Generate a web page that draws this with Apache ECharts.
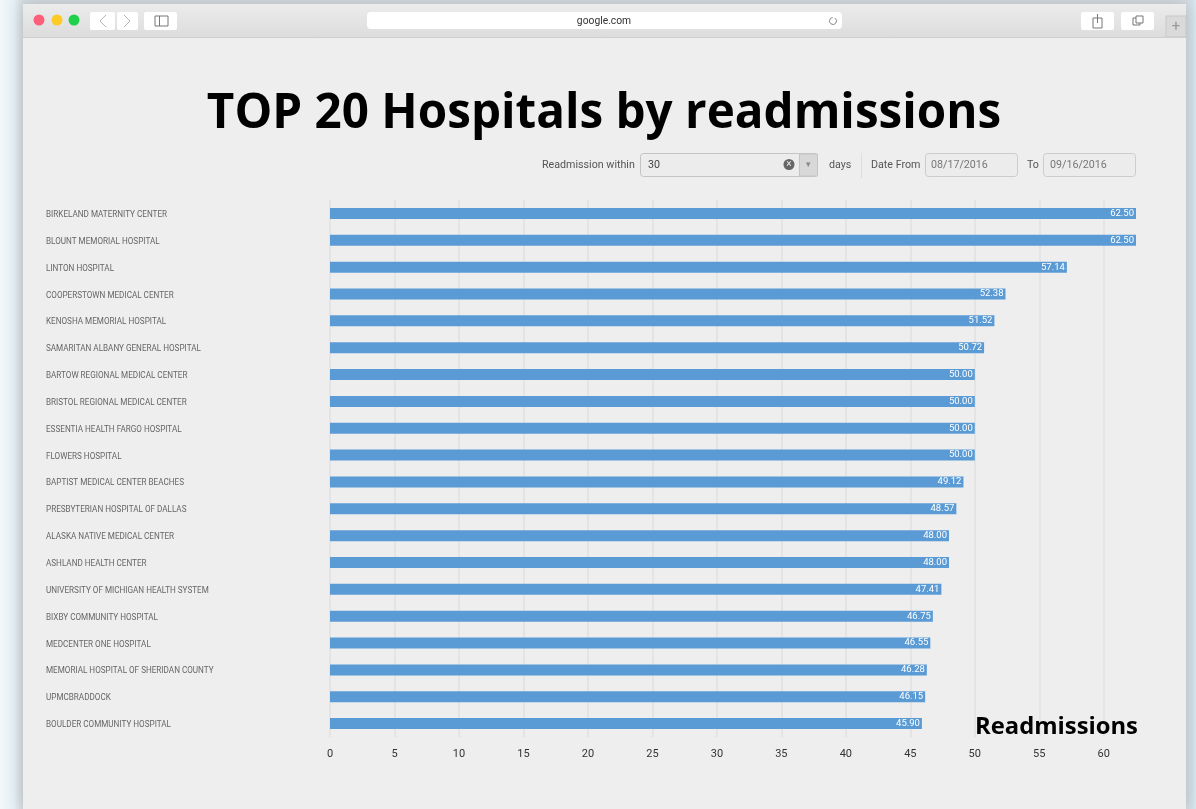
<!DOCTYPE html>
<html><head><meta charset="utf-8">
<script src="https://cdn.jsdelivr.net/npm/echarts@6/dist/echarts.min.js"></script>
<style>
html,body{margin:0;padding:0;width:1196px;height:809px;overflow:hidden;
background:linear-gradient(90deg,#f2f8fb 0,#e6f0f5 14px,#d6dde1 23px,#d6dde1 1186px,#d2e3ea 1192px,#dbe9ef 1196px);}
#c{width:1196px;height:809px}
</style></head><body><div id="c"></div>
<script>
const hospitals = ["BIRKELAND MATERNITY CENTER","BLOUNT MEMORIAL HOSPITAL","LINTON HOSPITAL","COOPERSTOWN MEDICAL CENTER","KENOSHA MEMORIAL HOSPITAL","SAMARITAN ALBANY GENERAL HOSPITAL","BARTOW REGIONAL MEDICAL CENTER","BRISTOL REGIONAL MEDICAL CENTER","ESSENTIA HEALTH FARGO HOSPITAL","FLOWERS HOSPITAL","BAPTIST MEDICAL CENTER BEACHES","PRESBYTERIAN HOSPITAL OF DALLAS","ALASKA NATIVE MEDICAL CENTER","ASHLAND HEALTH CENTER","UNIVERSITY OF MICHIGAN HEALTH SYSTEM","BIXBY COMMUNITY HOSPITAL","MEDCENTER ONE HOSPITAL","MEMORIAL HOSPITAL OF SHERIDAN COUNTY","UPMCBRADDOCK","BOULDER COMMUNITY HOSPITAL"];
const readmissions = [62.50,62.50,57.14,52.38,51.52,50.72,50.00,50.00,50.00,50.00,49.12,48.57,48.00,48.00,47.41,46.75,46.55,46.28,46.15,45.90];
const chartTitle = "TOP 20 Hospitals by readmissions";
const axisTitle = "Readmissions";

const rect=(x,y,w,h,fill,extra={},r=0)=>({type:'rect',silent:true,shape:{x,y,width:w,height:h,r},style:Object.assign({fill},extra),z:-7});
const text=(x,y,t,size,fill,align='left')=>({type:'text',silent:true,x,y,style:{text:t,fontSize:size,fill,fontFamily:'Roboto',align,verticalAlign:'middle'},z:-5});
const line=(x1,y1,x2,y2,stroke,w=1)=>({type:'line',silent:true,shape:{x1,y1,x2,y2},style:{stroke,lineWidth:w},z:-6});
const circle=(cx,cy,r,fill)=>({type:'circle',silent:true,shape:{cx,cy,r},style:{fill},z:-5});
const windowBody=rect(23,4,1163,805,'#eeeeee',{shadowBlur:16,shadowColor:'rgba(90,100,110,.3)'});
windowBody.z=-10;

const chrome=[
  windowBody,
  {type:'rect',silent:true,shape:{x:23,y:4,width:1163,height:33},z:-9,style:{fill:new echarts.graphic.LinearGradient(0,0,0,1,[{offset:0,color:'#ececec'},{offset:1,color:'#dcdcdc'}])}},
  line(23,37.5,1186,37.5,'#cfcfcf'),
  circle(39,20,5.5,'#fc5f7a'),circle(57,20,5.5,'#fdcb25'),circle(74,20,5.5,'#1fd04a'),
  rect(90,12,25,18,'#ffffff',{},2),rect(117,12,21,18,'#ffffff',{},2),rect(144,12,33,18,'#ffffff',{},2),
  {type:'polyline',silent:true,shape:{points:[[106,15],[100,21],[106,27]]},style:{stroke:'#b5b5b5',fill:'none',lineWidth:1},z:-5},
  {type:'polyline',silent:true,shape:{points:[[124,15],[130,21],[124,27]]},style:{stroke:'#b5b5b5',fill:'none',lineWidth:1},z:-5},
  {type:'rect',silent:true,shape:{x:155,y:16,width:13,height:10},style:{fill:'none',stroke:'#777',lineWidth:1},z:-5},
  line(159.5,16,159.5,26,'#777'),
  rect(367,12,475,17,'#ffffff',{},4),
  text(604,21,'google.com',10.3,'#333','center'),
  {type:'arc',silent:true,shape:{cx:833,cy:21,r:3.5,startAngle:-1,endAngle:4.6},style:{stroke:'#888',fill:'none',lineWidth:1},z:-5},
  rect(1081,12,33,18,'#ffffff',{},2),rect(1121,12,33,18,'#ffffff',{},2),
  {type:'rect',silent:true,shape:{x:1093,y:18,width:9,height:10},style:{fill:'none',stroke:'#777',lineWidth:1},z:-5},
  line(1097.5,14,1097.5,23,'#777'),
  {type:'rect',silent:true,shape:{x:1133,y:18,width:7,height:7},style:{fill:'#fff',stroke:'#777',lineWidth:1},z:-5},
  {type:'rect',silent:true,shape:{x:1136,y:16,width:7,height:7},style:{fill:'#fff',stroke:'#777',lineWidth:1},z:-5},
  rect(1166,16,20,21,'#dadada',{stroke:'#c8c8c8',lineWidth:1}),
  text(1176,27,'+',15,'#999','center'),
  text(542,165,'Readmission within',10.7,'#555'),
  rect(640.5,153.5,177,23,'#ececec',{stroke:'#c4c4c4',lineWidth:1},3),
  rect(799.5,154,18,22,'#d8d8d8',{stroke:'#c4c4c4',lineWidth:1}),
  text(648,165.5,'30',10.7,'#444'),
  circle(789,164.5,5.5,'#666'),
  text(789,164.5,'×',10,'#eee','center'),
  text(808,165,'▾',9,'#888','center'),
  text(829,165,'days',10.7,'#555'),
  line(861.5,153,861.5,178,'#dddddd'),
  text(871,165,'Date From',10.7,'#555'),
  rect(925.5,153.5,92,23,'#ececec',{stroke:'#cccccc',lineWidth:1},3),
  text(931,165,'08/17/2016',10.7,'#777'),
  text(1027,165,'To',10.7,'#555'),
  rect(1043.5,153.5,92,23,'#ececec',{stroke:'#cccccc',lineWidth:1},3),
  text(1050,165,'09/16/2016',10.7,'#777')
];

const chart=echarts.init(document.getElementById('c'),null,{renderer:'canvas'});
chart.setOption({
  backgroundColor:'transparent',
  animation:false,
  title:[
    {text:chartTitle,left:599,top:85,textAlign:'center',textStyle:{fontFamily:'Open Sans',fontWeight:'bold',fontSize:47.6,color:'#000'}},
    {text:axisTitle,left:970,top:710,textStyle:{fontFamily:'Open Sans',fontWeight:'bold',fontSize:23.8,color:'#000'}}
  ],
  graphic:chrome,
  grid:{left:330,top:200,width:806,height:537,containLabel:false},
  xAxis:{type:'value',min:0,max:62.5,interval:5,
    axisLine:{show:false},axisTick:{show:false},
    axisLabel:{showMaxLabel:false,color:'#333',fontFamily:'Roboto',fontSize:11,margin:12},
    splitLine:{show:true,showMaxLine:false,lineStyle:{color:'#e0e0e0',width:1.5}}},
  yAxis:{type:'category',inverse:true,data:hospitals,
    axisLine:{show:false},axisTick:{show:false},
    axisLabel:{align:'left',margin:284,formatter:v=>'{a|'+v+'}',
      rich:{a:{color:'#666',fontFamily:'Roboto',fontSize:8.15,padding:[3,0,0,0]}}}},
  series:[{type:'bar',data:readmissions,barWidth:11,
    itemStyle:{color:'#5b9bd5'},
    label:{show:true,position:'insideRight',distance:2,color:'#fff',fontFamily:'Roboto',fontSize:9.5,
      formatter:p=>p.value.toFixed(2)}}]
});
</script></body></html>
